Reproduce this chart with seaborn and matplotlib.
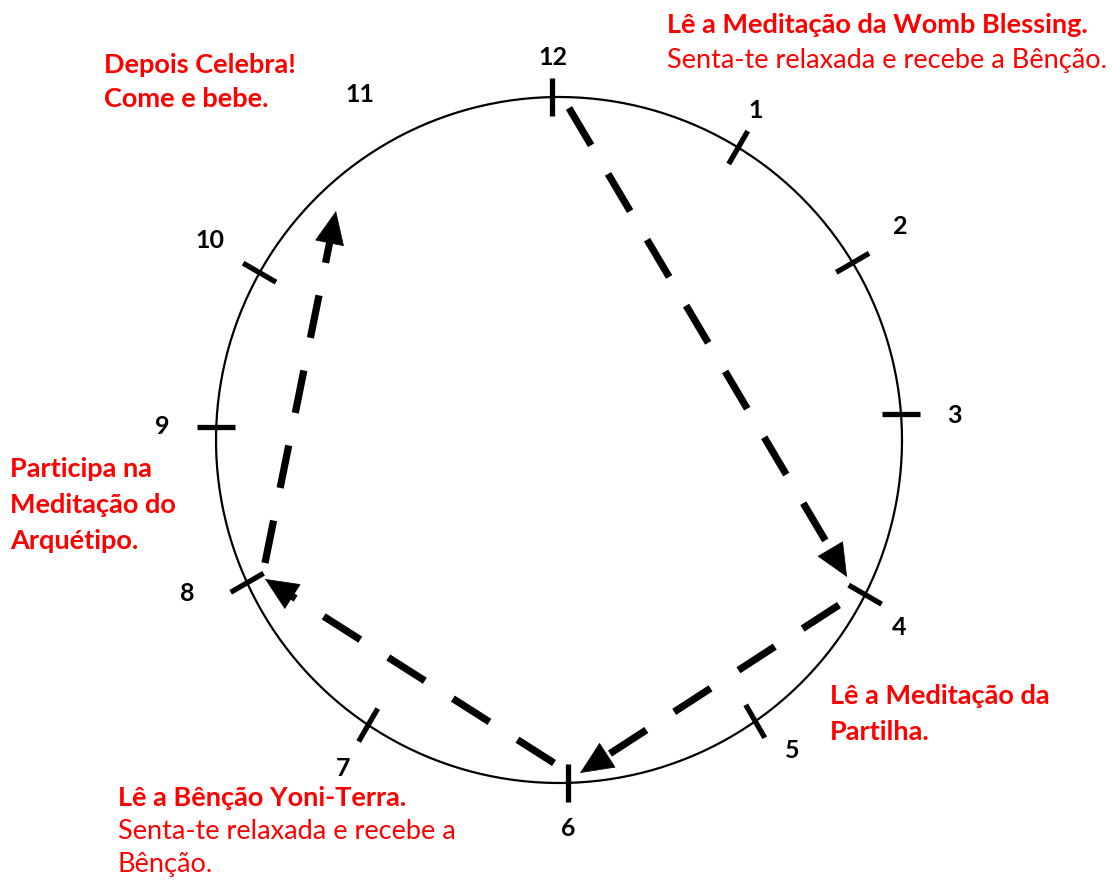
import numpy as np
import pandas as pd
import matplotlib.pyplot as plt
import seaborn as sns

# Clock face: hours, tick angles (degrees clockwise from 12) and label radii
hours = ["12", "1", "2", "3", "4", "5", "6", "7", "8", "9", "10", "11"]
tick_angles = [-1.2, 31.5, 58.9, 85.7, 116.8, 145.1, 178.5, 213.8, 245.4, 272.2, 299.2, None]
label_angles = [-0.9, 30.8, 58.0, 86.4, 118.9, 143.1, 178.7, 213.4, 247.5, 271.9, 299.8, 330.1]
label_radii = [383, 384, 402, 396, 389, 388, 389, 393, 402, 397, 402, 399]

# Path of the cycle: start and tip of each dashed arrow
arrow_from = ["12", "4", "6", "8"]
arrow_to = ["4", "6", "8", "11"]
arrow_start_x = [569, 839, 554, 265]
arrow_start_y = [108, 605, 763, 563]
arrow_tip_x = [847, 580, 265, 336]
arrow_tip_y = [577, 773, 579, 211]

# Annotations (which lines are bold), anchor of first baseline, line spacing
notes = [
    (["Lê a Meditação da Womb Blessing.", "Senta-te relaxada e recebe a Bênção."], [True, False], 667, 33, 35),
    (["Depois Celebra!", "Come e bebe."], [True, True], 104, 73, 34),
    (["Participa na", "Meditação do", "Arquétipo."], [True, True, True], 10, 477, 36),
    (["Lê a Meditação da", "Partilha."], [True, True], 830, 704, 36),
    (["Lê a Bênção Yoni-Terra.", "Senta-te relaxada e recebe a", "Bênção."], [True, False, False], 118, 806, 33),
]

cx, cy, radius = 559, 440, 343

sns.set_theme(style="white")
plt.rcParams["font.family"] = ["Lato", "DejaVu Sans"]

fig = plt.figure(figsize=(11.12, 8.8), dpi=100)
ax = fig.add_axes([0, 0, 1, 1])
ax.set_xlim(0, 1112)
ax.set_ylim(880, 0)
ax.axis("off")

# circle
theta = np.linspace(0, 2 * np.pi, 400)
circle = pd.DataFrame({"x": cx + radius * np.sin(theta), "y": cy - radius * np.cos(theta)})
sns.lineplot(data=circle, x="x", y="y", sort=False, estimator=None, color="black", lw=1.6, ax=ax)

# ticks (positioned on the circle, drawn at the nearest hour direction)
for ang in tick_angles:
    if ang is None:
        continue
    a = np.radians(ang)
    px, py = cx + radius * np.sin(a), cy - radius * np.cos(a)
    o = np.radians(round(ang / 30) * 30)
    s = np.array([-19, 19])
    ax.plot(px + s * np.sin(o), py - s * np.cos(o), color="black", lw=3.8, solid_capstyle="butt")

# hour labels
for h, ang, lr in zip(hours, label_angles, label_radii):
    a = np.radians(ang)
    ax.text(cx + lr * np.sin(a), cy - lr * np.cos(a), h, ha="center", va="center",
            fontsize=18, fontweight="bold", color="black")

# dashed arrows
head = 27
for sx, sy, tx, ty in zip(arrow_start_x, arrow_start_y, arrow_tip_x, arrow_tip_y):
    d = np.array([tx - sx, ty - sy], dtype=float)
    u = d / np.hypot(*d)
    bx, by = tx - u[0] * head, ty - u[1] * head
    ax.plot([sx, bx], [sy, by], color="black", lw=5.2, dashes=(6.0, 4.6), dash_capstyle="butt")
    ax.annotate("", xy=(tx, ty), xytext=(bx + u[0] * 3, by + u[1] * 3),
                arrowprops=dict(arrowstyle="-|>,head_length=1.9,head_width=0.85",
                                color="black", lw=0.5, shrinkA=0, shrinkB=0))

# red notes
for lines, bolds, x0, y0, step in notes:
    for i, (txt, b) in enumerate(zip(lines, bolds)):
        ax.text(x0, y0 + i * step, txt, ha="left", va="baseline", fontsize=19.5,
                fontweight="bold" if b else "normal", color="#ff0000")

fig.savefig("out.png", dpi=100, facecolor="white")
